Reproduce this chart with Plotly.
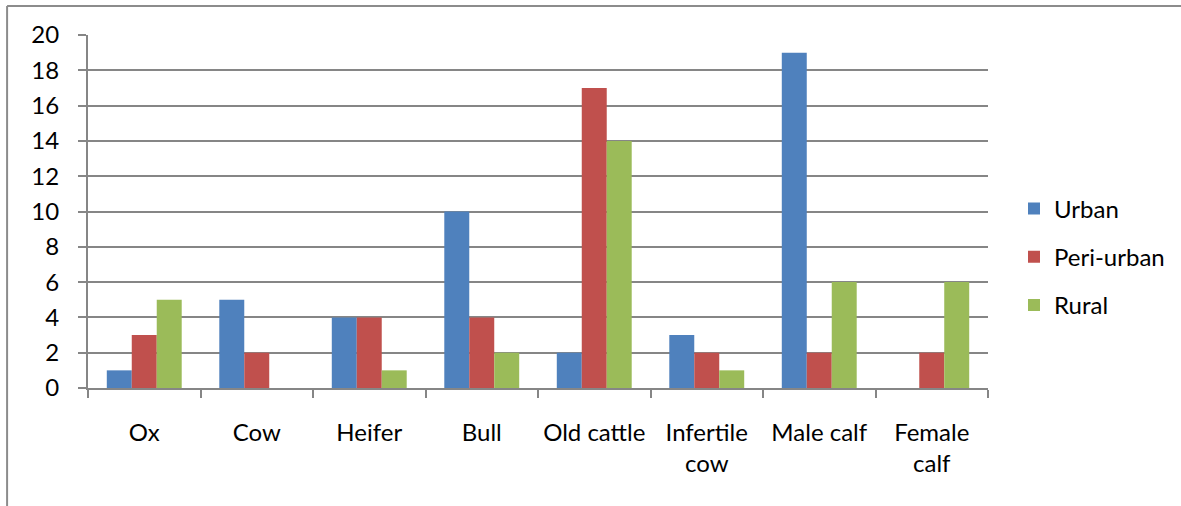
import plotly.graph_objects as go

categories = ["Ox", "Cow", "Heifer", "Bull", "Old cattle", "Infertile<br>cow", "Male calf", "Female<br>calf"]
urban = [1, 5, 4, 10, 2, 3, 19, 0]
peri_urban = [3, 2, 4, 4, 17, 2, 2, 2]
rural = [5, 0, 1, 2, 14, 1, 6, 6]
y_ticks = list(range(0, 21, 2))

W, H = 1181, 506
L, R, T, B = 88, 192, 35, 118
pw, ph = W - L - R, H - T - B

def px_x(x):
    return (x - L) / pw

def px_y(y):
    return (H - B - y) / ph

font = dict(family="Lato, Open Sans, sans-serif", size=24, color="#000000")

fig = go.Figure()
for name, vals, col, grp in [("Urban", urban, "#4F81BD", "a"),
                             ("Peri-urban", peri_urban, "#C0504D", "b"),
                             ("Rural", rural, "#9BBB59", "c")]:
    fig.add_trace(go.Bar(x=categories, y=vals, name=name, marker_color=col,
                         marker_line_width=0, legendgroup=grp))

grid = "#868686"
fig.update_layout(
    width=W, height=H,
    margin=dict(l=L, r=R, t=T, b=B),
    paper_bgcolor="white", plot_bgcolor="white",
    font=font,
    barmode="group", bargap=0.334, bargroupgap=0,
    showlegend=True,
    legend=dict(x=px_x(1014), y=px_y(257), xanchor="left", yanchor="middle",
                traceorder="grouped", tracegroupgap=14, font=font,
                bgcolor="rgba(0,0,0,0)"),
    xaxis=dict(type="category", showgrid=False, showline=True, linecolor=grid, linewidth=2,
               ticks="outside", tickson="boundaries", ticklen=8, tickwidth=2, tickcolor=grid,
               ticklabelstandoff=22, tickangle=0, tickfont=font),
    yaxis=dict(range=[0, 20], tickvals=y_ticks, showgrid=True, gridcolor=grid, gridwidth=2,
               showline=True, linecolor=grid, linewidth=2, zeroline=False,
               ticks="outside", ticklen=8, tickwidth=2, tickcolor=grid,
               ticklabelstandoff=14, tickfont=font),
    shapes=[
        dict(type="line", xref="paper", yref="paper", x0=px_x(7), x1=px_x(1200), y0=px_y(6), y1=px_y(6),
             line=dict(color="#8C8C8C", width=2)),
        dict(type="line", xref="paper", yref="paper", x0=px_x(7), x1=px_x(7), y0=px_y(6), y1=px_y(520),
             line=dict(color="#8C8C8C", width=2)),
    ],
)

fig.write_html("out.html", config={"displayModeBar": False},
               post_script="document.body.style.margin='0px';")
